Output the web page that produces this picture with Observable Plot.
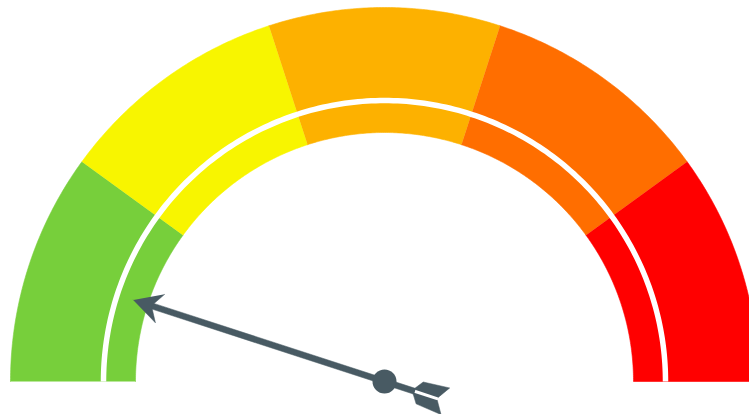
<!DOCTYPE html>
<html>
<head>
<meta charset="utf-8">
<script src="https://cdn.jsdelivr.net/npm/d3@7"></script>
<script src="https://cdn.jsdelivr.net/npm/@observablehq/plot@0.6"></script>
<style>
  html, body { margin: 0; padding: 0; background: #fff; }
  #chart svg { display: block; }
</style>
</head>
<body>
<div id="chart"></div>
<script>
// ---- data ----
const gaugeMin = 0;
const gaugeMax = 100;
const bandNames = ["Very low", "Low", "Medium", "High", "Very high"];
const bandStarts = [0, 20, 40, 60, 80];
const bandEnds = [20, 40, 60, 80, 100];
const bandColors = ["#77cf3b", "#f8f500", "#fdb100", "#ff6e00", "#ff0000"];
const needleValue = 10;

// ---- geometry (styles) ----
const R_OUT = 374, R_IN = 249, R_RING = 281, RING_W = 5.5;
const NEEDLE = "#485a63";

function angle(v) { return Math.PI * (1 - (v - gaugeMin) / (gaugeMax - gaugeMin)); }
function polar(r, v) { const t = angle(v); return {x: r * Math.cos(t), y: r * Math.sin(t)}; }
function arcPts(r, v0, v1, n = 80) {
  const out = [];
  for (let i = 0; i <= n; i++) out.push(polar(r, v0 + (v1 - v0) * i / n));
  return out;
}
function bandPoly(v0, v1) {
  return [...arcPts(R_OUT, v0, v1), ...arcPts(R_IN, v1, v0)];
}
function needlePt(v, along, perp) {
  const t = angle(v);
  const ux = Math.cos(t), uy = Math.sin(t);
  const wx = -Math.sin(t), wy = Math.cos(t);
  return {x: along * ux + perp * wx, y: along * uy + perp * wy};
}
function needleShape(v, pts) { return pts.map(([a, p]) => needlePt(v, a, p)); }

const marks = [];
bandNames.forEach((name, i) => {
  marks.push(Plot.line(bandPoly(bandStarts[i], bandEnds[i]), {
    x: "x", y: "y", fill: bandColors[i], stroke: bandColors[i], strokeWidth: 0.6, curve: "linear"
  }));
});
// white separating ring
marks.push(Plot.line(arcPts(R_RING, gaugeMin, gaugeMax, 200), {
  x: "x", y: "y", stroke: "#fff", strokeWidth: RING_W, strokeLinecap: "butt"
}));
// needle parts
const shaft = needleShape(needleValue, [[-32, -3], [246, -3], [246, 3], [-32, 3]]);
const head = needleShape(needleValue, [[264, 0], [236, 15], [245, 0], [236, -15]]);
const feather1 = needleShape(needleValue, [[-30, 1.5], [-37, 11.5], [-64, 14], [-56, 1.5]]);
const feather2 = needleShape(needleValue, [[-30, -1.5], [-37, -11.5], [-64, -14], [-56, -1.5]]);
[shaft, head, feather1, feather2].forEach(p => {
  marks.push(Plot.line(p, {x: "x", y: "y", fill: NEEDLE, stroke: NEEDLE, strokeWidth: 0.5, strokeLinejoin: "miter"}));
});
marks.push(Plot.dot([{x: 0, y: 0}], {x: "x", y: "y", r: 12, fill: NEEDLE}));

const chart = Plot.plot({
  width: 749,
  height: 414,
  margin: 0,
  x: {domain: [-384, 365], range: [0, 749], axis: null},
  y: {domain: [-33, 381], range: [414, 0], axis: null},
  marks
});
document.getElementById("chart").appendChild(chart);
</script>
</body>
</html>
